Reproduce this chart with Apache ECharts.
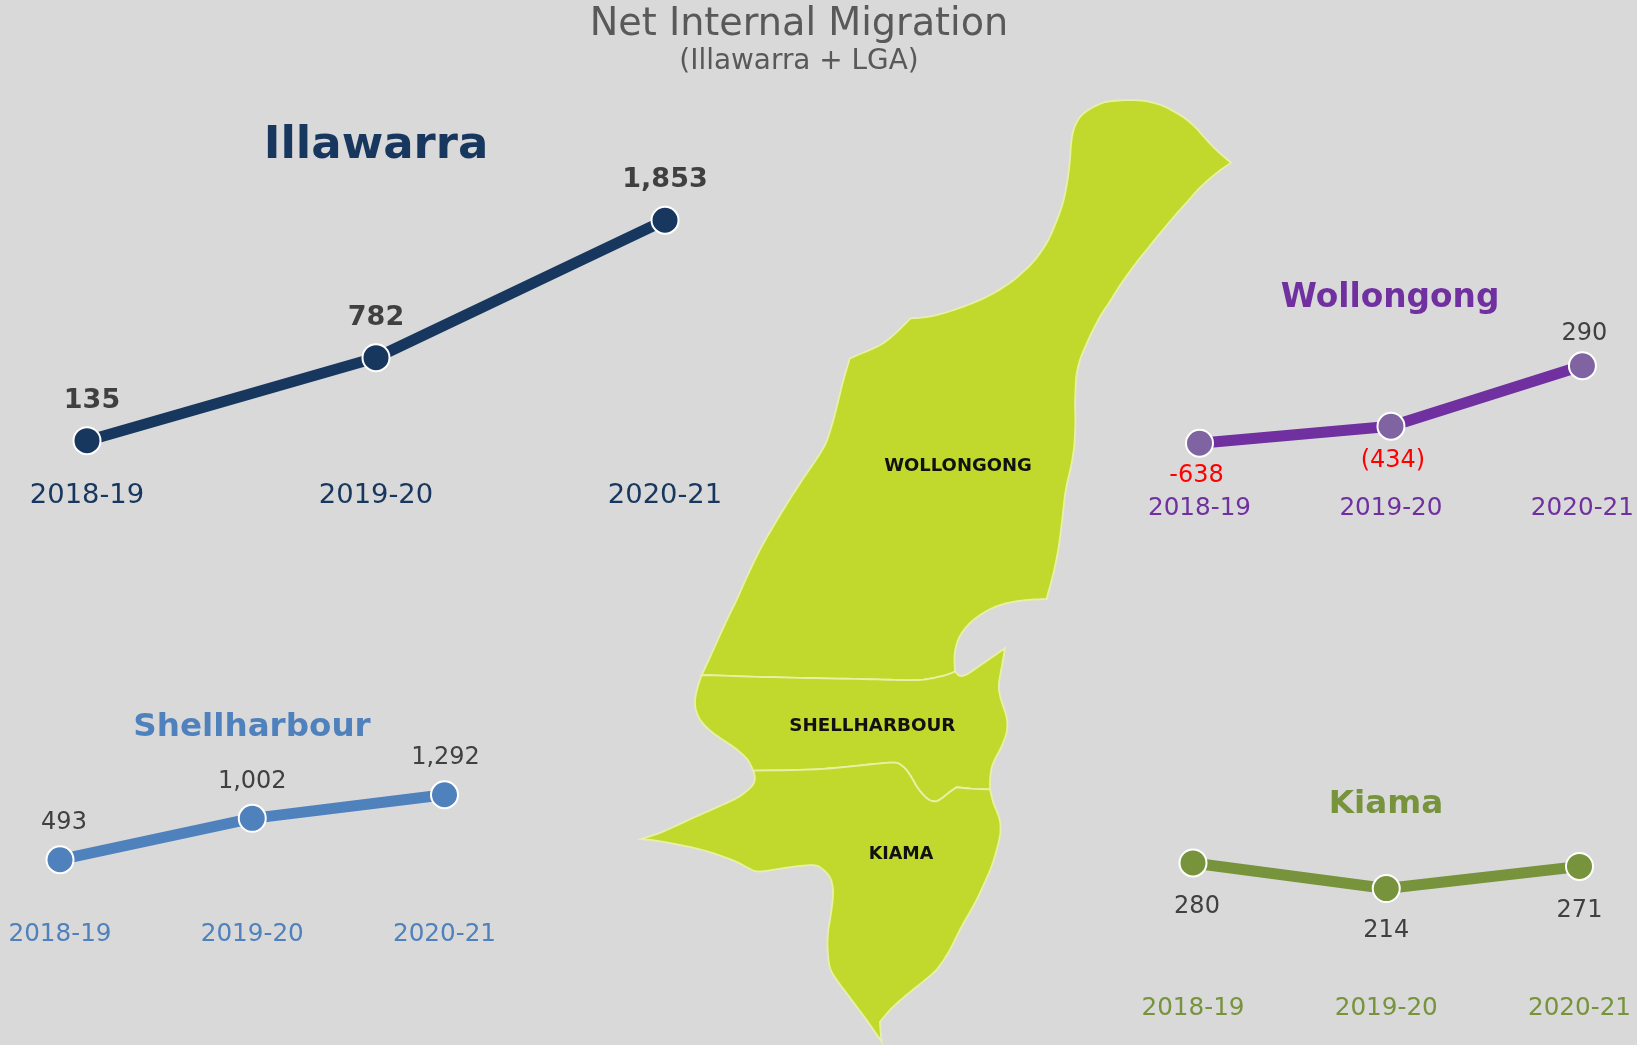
<!DOCTYPE html>
<html><head><meta charset="utf-8">
<style>html,body{margin:0;padding:0;background:#D9D9D9}#c{width:1637px;height:1045px}</style>
<script src="https://cdn.jsdelivr.net/npm/echarts@6/dist/echarts.min.js"></script>
</head><body><div id="c"></div>
<script>
const periods = ['2018-19','2019-20','2020-21'];
const illawarraValues = [135,782,1853];
const illawarraLabels = ['135','782','1,853'];
const wollongongValues = [-638,-434,290];
const wollongongLabels = ['-638','(434)','290'];
const shellharbourValues = [493,1002,1292];
const shellharbourLabels = ['493','1,002','1,292'];
const kiamaValues = [280,214,271];
const kiamaLabels = ['280','214','271'];

const coastTop = [[1105,102],[1117,100.5],[1130,100],[1143,100.5],[1155,103],[1166,107],[1175,112],[1184,117.5],[1191.5,123.5],[1198,130],[1204,137],[1216,150],[1231,162.7]];
const coastEast = [[1231,162.7],[1219,171],[1208,180],[1197,190.5],[1187.5,201.7],[1177,213],[1167,225],[1156.5,237.5],[1146.5,250],[1136,263],[1126,276.7],[1117.5,289],[1110,301.7],[1102,313],[1095.5,325],[1090,336],[1085.3,346.7],[1081,356.5],[1078,366.7],[1076,378],[1075.5,390],[1075,405],[1075.5,420],[1075,435],[1074,450],[1071,467],[1067,483.3],[1064.5,498],[1063,513.3],[1061,530],[1058.8,546.7],[1056,562],[1052.7,576.7],[1046.5,599]];
const notch = [[1046.5,599],[1033,599.5],[1020,600.7],[1009,602.5],[1000,605],[989,609.5],[980,615],[972,621],[965,628.3],[960,635.5],[956.7,643.3],[955,651],[954.3,658.3],[955,671.7]];
const northBoundary = [[955,671.7],[948,674.5],[940,676.7],[930,678.8],[920,680],[905,680.3],[886.7,679.7],[860,679],[820,678.3],[785,677.5],[753,676.7],[725,675.7],[701.7,675]];
const westLower = [[701.7,675],[711,655],[720,635],[728,617.5],[736.7,600],[745.5,580],[754.7,560],[763.5,543],[773,526.7],[783,510],[793.5,493.3],[804.5,476.5],[816,460],[821,452],[826,443.3],[830.5,430],[834.3,416.7],[838.5,400],[842.4,383.3],[849.8,358.3]];
const westStep = [[849.8,358.3],[865,352],[881,345],[889,339],[895.5,333.3],[903,326],[910.6,318.3]];
const westUpper = [[910.6,318.3],[920,317.8],[930,316.7],[944.5,313],[958.8,308.3],[973,303],[987.3,296.7],[1000,289.5],[1011.8,281.7],[1022.5,272.5],[1032.2,263.3],[1041,252],[1048.6,240],[1055,225],[1060.8,210],[1064.5,197],[1067,183.3],[1069,170],[1070.2,156.7],[1071,143],[1073,131],[1076,123],[1081,115.5],[1088,110],[1096,105.5],[1105,102]];
const shellNotch = [[955,671.7],[961.7,678.3],[983,663.5],[1005,648.3]];
const shellEast = [[1005,648.3],[1002,666],[998.3,685],[1000,696.7],[1003.5,707],[1006.7,716.7],[1007.5,725],[1006.7,733.3],[1003.5,742],[1000,750],[995.5,758],[991.7,766.7],[990,778],[990,789.3]];
const southEastLine = [[990,789.3],[973,789],[956.7,787.3]];
const southBoundary = [[956.7,787.3],[950,791.7],[943,797.5],[936.7,801.7],[931,801],[926.7,798.3],[921.5,793],[916.7,786.7],[912,778],[906.7,770],[902,765.5],[896.7,762.3],[880,763.3],[850,766.5],[820,769.3],[787,770.3],[753.3,770.7]];
const shellWest = [[753.3,770.7],[748.3,760],[741,753],[733.3,746.7],[723,740],[713.3,733.3],[706,727],[700,720],[697,713.5],[695,706.7],[695,700],[696,693.3],[698.5,684],[701.7,675]];
const kiamaEast = [[990,789.3],[993.3,803.3],[997,811.5],[1000,820],[1000.7,828],[1000,836.7],[996.5,851],[991.7,866.7],[984.5,883],[976.7,900],[970,912],[963.3,923.3],[956.5,936.5],[950,950],[943.5,960.5],[936.7,970],[927,978.5],[916.7,986.7],[906.5,995],[896.7,1003.3],[888,1012],[880,1021.7]];
const kiamaTip = [[880,1021.7],[880.5,1032],[881.7,1041.7]];
const kiamaSouth = [[881.7,1041.7],[866.7,1020],[856.5,1006.5],[846.7,993.3],[838,982],[830,970],[828,957],[827.3,943.3],[828,931],[830,920],[832,906.5],[833.3,893.3],[832.5,884.5],[830,876.7],[824,870],[816.7,865],[805,865.3],[793.3,866.7],[775,869.5],[756.7,872.3],[747,867.5],[736.7,861.7],[720,855.5],[703.3,850],[683,845.5],[663.3,841.7],[651,840],[641,839]];
const kiamaWest = [[641,839],[651,836],[663.3,831.7],[683,822.5],[703.3,813.3],[720,806],[736.7,798.3],[745,792.5],[751.7,786.7],[754.5,782],[755,776.7],[753.3,770.7]];

// Rounds the traced outline between its corners, keeping the end points of each piece
function rounded(piece) {
  let p = piece;
  for (let n = 0; n < 2; n++) {
    const out = [p[0]];
    for (let i = 0; i < p.length - 1; i++) {
      const a = p[i], b = p[i+1];
      if (i > 0) out.push([a[0]*.75+b[0]*.25, a[1]*.75+b[1]*.25]);
      if (i < p.length - 2) out.push([a[0]*.25+b[0]*.75, a[1]*.25+b[1]*.75]);
    }
    out.push(p[p.length-1]);
    p = out;
  }
  return p;
}
const ring = (...parts) => { const r = [].concat(...parts.map(rounded)).map(p => [p[0], -p[1]]); r.push(r[0]); return r; };
const rev = a => [...a].reverse();
const region = (name, cp, coords) => ({type:'Feature', properties:{name, cp:[cp[0], -cp[1]]}, geometry:{type:'Polygon', coordinates:[coords]}});
echarts.registerMap('illawarra', {type:'FeatureCollection', features:[
  region('WOLLONGONG',[958,466], ring(coastTop, coastEast, notch, northBoundary, westLower, westStep, westUpper)),
  region('SHELLHARBOUR',[872.3,726.7], ring(rev(northBoundary), shellNotch, shellEast, southEastLine, southBoundary, shellWest)),
  region('KIAMA',[901,854], ring(rev(southBoundary), rev(southEastLine), kiamaEast, kiamaTip, kiamaSouth, kiamaWest))
]});

const font = 'DejaVu Sans';
function lineChart(idx, g, yMin, yMax, values, labels, color, markerColor, tickColor, margin, lf) {
  return {
    grid: {left:g[0], top:g[1], width:g[2], height:g[3], containLabel:false},
    xAxis: {gridIndex:idx, type:'category', data:periods, boundaryGap:false,
      axisLine:{show:false,onZero:false}, axisTick:{show:false}, splitLine:{show:false},
      axisLabel:{interval:0, color:tickColor, fontFamily:font, fontSize:g[4], margin:margin}},
    yAxis: {gridIndex:idx, type:'value', min:yMin, max:yMax, show:false, splitLine:{show:false}, axisLine:{onZero:false}},
    series: {type:'line', xAxisIndex:idx, yAxisIndex:idx, smooth:false, symbol:'circle', symbolSize:27, clip:false,
      lineStyle:{color:color,width:11}, itemStyle:{color:markerColor,borderColor:'#fff',borderWidth:2},
      emphasis:{disabled:true}, z:5,
      data: values.map((v,i)=>({value:v, label:{show:true, formatter:labels[i], position:lf[i][0], distance:lf[i][1], offset:[lf[i][2],0],
        color:lf[i][3]||'#404040', fontFamily:font, fontSize:lf.size, fontWeight:lf.weight||'normal'}}))}
  };
}
const illaPos = [['top',12,5],['top',12,0],['top',12,0]]; illaPos.size=27; illaPos.weight='bold';
const wollPos = [['bottom',6,-3,'#FF0000'],['bottom',8,2,'#FF0000'],['top',6,2]]; wollPos.size=24;
const shelPos = [['top',10,4],['top',10,0],['top',11,1]]; shelPos.size=24;
const kiaPos = [['bottom',17,4],['bottom',16,0],['bottom',18,0]]; kiaPos.size=24;

const charts = [
  lineChart(0,[87,201.4,578,256.6,27.4],0,2000,illawarraValues,illawarraLabels,'#17375E','#17375E','#17375E',24,illaPos),
  lineChart(1,[1199.5,356.6,383,100.2,24.7],-800,400,wollongongValues,wollongongLabels,'#7030A0','#8064A2','#7030A0',39,wollPos),
  lineChart(2,[60,786,384.5,81.3,24.7],400,1400,shellharbourValues,shellharbourLabels,'#4F81BD','#4F81BD','#4F81BD',55,shelPos),
  lineChart(3,[1193,855.2,386.5,38.8,24.7],200,300,kiamaValues,kiamaLabels,'#77933C','#77933C','#77933C',102,kiaPos)
];
const heading = (text,x,y,size,color,weight) => ({text,left:x,top:y,textAlign:'center',padding:0,
  textStyle:{fontFamily:font,fontSize:size,fontWeight:weight,color}});

const mapLabel = size => ({label:{fontSize:size}});
const chart = echarts.init(document.getElementById('c'),null,{renderer:'canvas'});
chart.setOption({
  animation:false, backgroundColor:'#D9D9D9',
  title:[
    heading('Net Internal Migration',799,6,38.2,'#595959','normal'),
    heading('(Illawarra + LGA)',799,48,27.9,'#595959','normal'),
    heading('Illawarra',376,124,45,'#17375E','bold'),
    heading('Wollongong',1390,282,32.8,'#7030A0','bold'),
    heading('Shellharbour',252,711,32.6,'#4F81BD','bold'),
    heading('Kiama',1386,788,32.6,'#77933C','bold')
  ],
  grid:charts.map(c=>c.grid), xAxis:charts.map(c=>c.xAxis), yAxis:charts.map(c=>c.yAxis),
  series:[
    {type:'map', map:'illawarra', left:600, top:60, width:680, height:1000, aspectScale:1,
     boundingCoords:[[600,-60],[1280,-1060]], roam:false, selectedMode:false, silent:true, z:1,
     label:{show:true, color:'#111', fontFamily:font, fontWeight:'bold', fontSize:17},
     itemStyle:{areaColor:'#C0D92C', borderColor:'#E8F0A8', borderWidth:1.8},
     emphasis:{disabled:true},
     data:[{name:'WOLLONGONG',...mapLabel(18)},{name:'SHELLHARBOUR',...mapLabel(18.3)},{name:'KIAMA',...mapLabel(17.5)}]},
    ...charts.map(c=>c.series)
  ]
});
</script></body></html>
